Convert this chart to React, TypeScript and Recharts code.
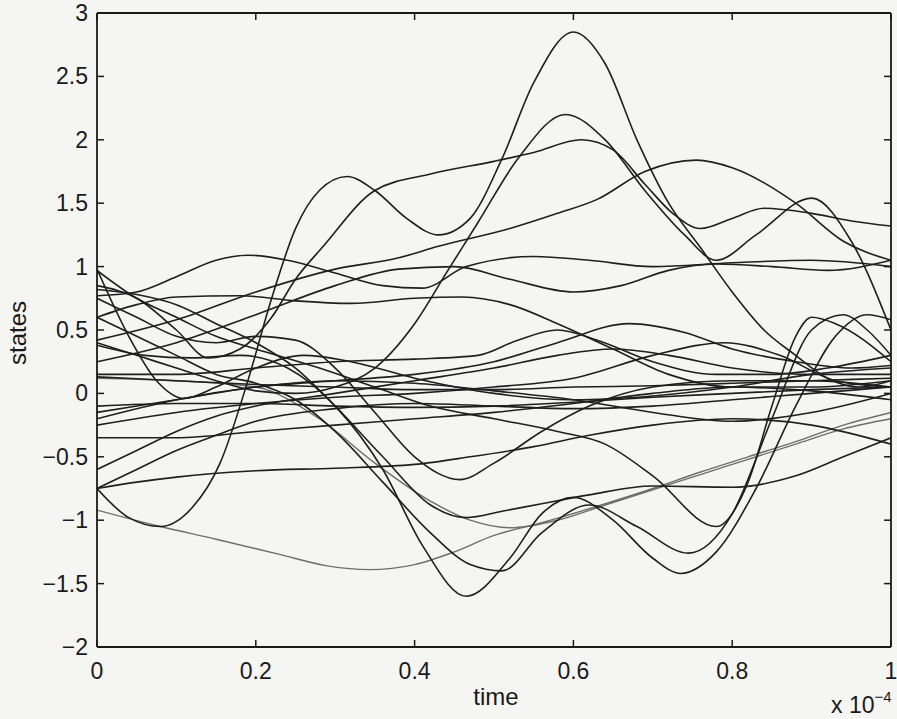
import React from 'react';
import { LineChart, Line, XAxis, YAxis } from 'recharts';

type P = [number, number];

// Each state trajectory: [time (x 1e-4), value]
const s01: P[] = [[0,-0.75],[0.04,-0.98],[0.08,-1.05],[0.12,-0.9],[0.155,-0.55],[0.19,0.1],[0.22,0.75],[0.25,1.3],[0.28,1.6],[0.315,1.71],[0.35,1.6],[0.39,1.38],[0.43,1.25],[0.47,1.38],[0.51,1.85],[0.55,2.45],[0.6,2.85],[0.64,2.6],[0.68,2.0],[0.72,1.5],[0.76,1.15],[0.8,0.8],[0.84,0.5],[0.88,0.3],[0.92,0.12],[0.96,0.05],[1.0,0.1]];
const s02: P[] = [[0,0.4],[0.05,0.3],[0.1,0.2],[0.15,0.1],[0.2,0.02],[0.25,0.0],[0.3,0.05],[0.35,0.2],[0.4,0.55],[0.44,0.95],[0.48,1.35],[0.53,1.85],[0.59,2.2],[0.64,2.0],[0.69,1.6],[0.74,1.25],[0.78,1.05],[0.83,1.25],[0.9,1.54],[0.95,1.2],[1.0,0.5]];
const s03: P[] = [[0,0.85],[0.05,0.75],[0.1,0.5],[0.14,0.28],[0.18,0.35],[0.22,0.6],[0.25,0.9],[0.285,1.16],[0.35,1.6],[0.42,1.73],[0.5,1.83],[0.55,1.9],[0.61,2.0],[0.65,1.92],[0.69,1.65],[0.725,1.42],[0.76,1.3],[0.8,1.38],[0.84,1.46],[0.9,1.42],[0.95,1.36],[1.0,1.32]];
const s04: P[] = [[0,0.42],[0.1,0.58],[0.2,0.8],[0.3,0.98],[0.38,1.07],[0.43,1.16],[0.52,1.3],[0.58,1.42],[0.63,1.53],[0.69,1.75],[0.755,1.84],[0.8,1.78],[0.88,1.5],[0.94,1.2],[1.0,1.05]];
const s05: P[] = [[0,0.77],[0.05,0.8],[0.1,0.92],[0.15,1.05],[0.19,1.09],[0.24,1.05],[0.3,0.95],[0.36,0.85],[0.41,0.83],[0.465,1.0],[0.55,1.08],[0.62,1.05],[0.7,1.0],[0.8,1.03],[0.9,1.05],[1.0,1.0]];
const s06: P[] = [[0,0.6],[0.05,0.7],[0.1,0.76],[0.18,0.77],[0.25,0.73],[0.32,0.71],[0.4,0.75],[0.46,0.76],[0.52,0.7],[0.58,0.55],[0.65,0.35],[0.72,0.15],[0.8,0.05],[0.9,0.05],[1.0,0.1]];
const s07: P[] = [[0,0.25],[0.1,0.4],[0.2,0.62],[0.3,0.85],[0.38,0.98],[0.45,1.0],[0.52,0.9],[0.6,0.8],[0.66,0.85],[0.72,0.97],[0.78,1.02],[0.85,1.0],[0.92,0.97],[1.0,1.05]];
const s08: P[] = [[0,0.15],[0.1,0.15],[0.2,0.2],[0.3,0.25],[0.4,0.27],[0.48,0.3],[0.53,0.42],[0.58,0.5],[0.63,0.42],[0.7,0.25],[0.78,0.15],[0.85,0.15],[0.92,0.2],[1.0,0.3]];
const s09: P[] = [[0,-0.2],[0.1,-0.05],[0.2,0.05],[0.3,0.1],[0.4,0.15],[0.5,0.25],[0.58,0.4],[0.67,0.55],[0.74,0.48],[0.8,0.35],[0.88,0.25],[0.95,0.2],[1.0,0.22]];
const s10: P[] = [[0,-0.25],[0.1,-0.15],[0.2,-0.08],[0.3,-0.03],[0.4,0.0],[0.5,0.05],[0.6,0.12],[0.7,0.3],[0.79,0.4],[0.86,0.3],[0.93,0.1],[1.0,0.05]];
const s11: P[] = [[0,0.38],[0.06,0.3],[0.12,0.28],[0.18,0.3],[0.24,0.2],[0.3,-0.1],[0.36,-0.6],[0.41,-1.2],[0.465,-1.6],[0.52,-1.3],[0.56,-0.95],[0.6,-0.82],[0.65,-1.0],[0.7,-1.3],[0.735,-1.42],[0.78,-1.25],[0.83,-0.75],[0.88,-0.1],[0.93,0.45],[0.97,0.62],[1.0,0.58]];
const s12: P[] = [[0,0.6],[0.05,0.45],[0.1,0.3],[0.15,0.15],[0.2,0.08],[0.25,-0.05],[0.3,-0.3],[0.36,-0.7],[0.42,-1.1],[0.47,-1.35],[0.51,-1.4],[0.56,-1.1],[0.62,-0.88],[0.68,-1.05],[0.745,-1.26],[0.8,-0.95],[0.85,-0.2],[0.9,0.5],[0.94,0.62],[0.97,0.5],[1.0,0.3]];
const s13: P[] = [[0,0.97],[0.05,0.75],[0.1,0.6],[0.15,0.45],[0.2,0.35],[0.28,0.2],[0.35,0.05],[0.42,-0.1],[0.5,-0.2],[0.58,-0.3],[0.64,-0.4],[0.7,-0.65],[0.78,-1.05],[0.82,-0.7],[0.85,-0.1],[0.88,0.45],[0.9,0.6],[0.93,0.55],[1.0,0.25]];
const s14: P[] = [[0,0.75],[0.05,0.6],[0.1,0.45],[0.15,0.4],[0.2,0.45],[0.25,0.42],[0.3,0.2],[0.35,-0.15],[0.4,-0.5],[0.457,-0.68],[0.5,-0.55],[0.56,-0.3],[0.62,-0.1],[0.7,0.05],[0.8,0.1],[0.9,0.1],[1.0,0.05]];
const s15: P[] = [[0,0.82],[0.05,0.78],[0.1,0.7],[0.15,0.55],[0.2,0.4],[0.25,0.2],[0.3,-0.1],[0.36,-0.5],[0.42,-0.88],[0.465,-0.98],[0.51,-0.93],[0.56,-0.87],[0.62,-0.8],[0.7,-0.73],[0.8,-0.74],[0.88,-0.65],[0.94,-0.5],[1.0,-0.35]];
const s16: P[] = [[0,-0.92],[0.08,-1.05],[0.15,-1.15],[0.23,-1.27],[0.29,-1.36],[0.343,-1.39],[0.4,-1.35],[0.45,-1.25],[0.5,-1.12],[0.56,-1.02],[0.63,-0.89],[0.7,-0.75],[0.76,-0.62],[0.82,-0.5],[0.88,-0.38],[0.94,-0.25],[1.0,-0.15]];
const s17: P[] = [[0,0.12],[0.1,0.1],[0.2,0.05],[0.28,-0.2],[0.35,-0.55],[0.42,-0.85],[0.47,-1.0],[0.52,-1.06],[0.58,-1.0],[0.64,-0.88],[0.7,-0.76],[0.76,-0.64],[0.82,-0.52],[0.88,-0.4],[0.94,-0.28],[1.0,-0.2]];
const s18: P[] = [[0,-0.75],[0.05,-0.7],[0.1,-0.66],[0.2,-0.61],[0.3,-0.59],[0.4,-0.56],[0.47,-0.5],[0.55,-0.42],[0.62,-0.33],[0.7,-0.25],[0.8,-0.2],[0.9,-0.25],[1.0,-0.4]];
const s19: P[] = [[0,-0.75],[0.05,-0.6],[0.1,-0.45],[0.15,-0.33],[0.2,-0.22],[0.3,-0.12],[0.4,-0.08],[0.5,-0.1],[0.6,-0.12],[0.7,-0.1],[0.8,-0.05],[0.9,0.0],[1.0,0.05]];
const s20: P[] = [[0,-0.1],[0.1,-0.08],[0.2,-0.08],[0.3,-0.1],[0.4,-0.11],[0.5,-0.1],[0.6,-0.07],[0.7,-0.03],[0.8,0.0],[0.9,0.03],[1.0,0.05]];
const s21: P[] = [[0,0.13],[0.1,0.1],[0.2,0.07],[0.3,0.05],[0.4,0.03],[0.5,0.03],[0.6,0.05],[0.7,0.06],[0.8,0.08],[0.9,0.1],[1.0,0.12]];
const s22: P[] = [[0,-0.15],[0.1,-0.05],[0.2,0.05],[0.3,0.1],[0.4,0.08],[0.5,0.02],[0.6,-0.05],[0.7,-0.15],[0.8,-0.22],[0.9,-0.15],[1.0,0.0]];
const s23: P[] = [[0,0.98],[0.04,0.45],[0.075,0.1],[0.11,-0.04],[0.15,0.05],[0.2,0.2],[0.26,0.3],[0.32,0.25],[0.4,0.12],[0.5,0.0],[0.6,-0.05],[0.7,-0.02],[0.8,0.05],[0.9,0.15],[1.0,0.2]];
const s24: P[] = [[0,-0.35],[0.1,-0.35],[0.2,-0.3],[0.3,-0.25],[0.4,-0.2],[0.5,-0.15],[0.6,-0.08],[0.7,0.0],[0.8,0.05],[0.9,0.02],[1.0,-0.05]];
const s25: P[] = [[0,-0.6],[0.05,-0.45],[0.1,-0.3],[0.15,-0.18],[0.2,-0.1],[0.3,0.0],[0.4,0.1],[0.5,0.2],[0.58,0.3],[0.65,0.35],[0.72,0.3],[0.8,0.2],[0.9,0.15],[1.0,0.15]];

const darkSeries: P[][] = [s01, s02, s03, s04, s05, s06, s07, s08, s09, s10, s11, s12, s13, s14, s15, s18, s19, s20, s21, s22, s23, s24, s25];
const graySeries: P[][] = [s16, s17];

const xTicks = [0, 0.2, 0.4, 0.6, 0.8, 1];
const xTickLabels = ['0', '0.2', '0.4', '0.6', '0.8', '1'];
const yTicks = [-2, -1.5, -1, -0.5, 0, 0.5, 1, 1.5, 2, 2.5, 3];
const yTickLabels = ['\u22122', '\u22121.5', '\u22121', '\u22120.5', '0', '0.5', '1', '1.5', '2', '2.5', '3'];

const FONT = '"Liberation Sans", Arial, Helvetica, sans-serif';
const INK = '#1a1a1a';
const TICK_LEN = 7;
const TICK_FONT = 23;

const labelFor = (ticks: number[], labels: string[], v: number) => {
  const i = ticks.findIndex((t) => Math.abs(t - v) < 1e-9);
  return i >= 0 ? labels[i] : String(v);
};

const BottomTick = (props: any) => {
  const { x, y, payload } = props;
  return (
    <g>
      <line x1={x} y1={y} x2={x} y2={y - TICK_LEN} stroke={INK} strokeWidth={1.5} />
      <text x={x} y={y + 32} textAnchor="middle" fontSize={TICK_FONT} fill={INK} fontFamily={FONT}>
        {labelFor(xTicks, xTickLabels, payload.value)}
      </text>
    </g>
  );
};

const LeftTick = (props: any) => {
  const { x, y, payload } = props;
  return (
    <g>
      <line x1={x} y1={y} x2={x + TICK_LEN} y2={y} stroke={INK} strokeWidth={1.5} />
      <text x={x - 9} y={y + 8} textAnchor="end" fontSize={TICK_FONT} fill={INK} fontFamily={FONT}>
        {labelFor(yTicks, yTickLabels, payload.value)}
      </text>
    </g>
  );
};

const TopTick = (props: any) => {
  const { x, y } = props;
  return <line x1={x} y1={y} x2={x} y2={y + TICK_LEN} stroke={INK} strokeWidth={1.5} />;
};

const RightTick = (props: any) => {
  const { x, y } = props;
  return <line x1={x} y1={y} x2={x - TICK_LEN} y2={y} stroke={INK} strokeWidth={1.5} />;
};

const toRows = (pts: P[]) => pts.map(([x, y]) => ({ x, y }));

export default function App() {
  const axisLine = { stroke: INK, strokeWidth: 1.8 };
  return (
    <div style={{ position: 'absolute', left: 0, top: 0, width: 897, height: 719, background: '#f5f5f4', fontFamily: FONT }}>
      <LineChart width={897} height={719} margin={{ top: 12, right: 5, bottom: 32, left: 0 }}>
        <XAxis
          xAxisId="b"
          dataKey="x"
          type="number"
          domain={[0, 1]}
          ticks={xTicks}
          interval={0}
          allowDataOverflow
          height={40}
          tickSize={0}
          tickMargin={0}
          axisLine={axisLine}
          tickLine={false}
          tick={<BottomTick />}
        />
        <XAxis
          xAxisId="t"
          orientation="top"
          dataKey="x"
          type="number"
          domain={[0, 1]}
          ticks={xTicks}
          interval={0}
          allowDataOverflow
          height={1}
          tickSize={0}
          tickMargin={0}
          axisLine={axisLine}
          tickLine={false}
          tick={<TopTick />}
        />
        <YAxis
          yAxisId="l"
          type="number"
          domain={[-2, 3]}
          ticks={yTicks}
          interval={0}
          allowDataOverflow
          width={97}
          tickSize={0}
          tickMargin={0}
          axisLine={axisLine}
          tickLine={false}
          tick={<LeftTick />}
        />
        <YAxis
          yAxisId="r"
          orientation="right"
          type="number"
          domain={[-2, 3]}
          ticks={yTicks}
          interval={0}
          allowDataOverflow
          width={1}
          tickSize={0}
          tickMargin={0}
          axisLine={axisLine}
          tickLine={false}
          tick={<RightTick />}
        />
        {graySeries.map((pts, i) => (
          <Line
            key={'g' + i}
            xAxisId="b"
            yAxisId="l"
            data={toRows(pts)}
            dataKey="y"
            type="monotoneX"
            stroke="#6e6e6e"
            strokeWidth={1.4}
            dot={false}
            activeDot={false}
            isAnimationActive={false}
          />
        ))}
        {darkSeries.map((pts, i) => (
          <Line
            key={'d' + i}
            xAxisId="b"
            yAxisId="l"
            data={toRows(pts)}
            dataKey="y"
            type="monotoneX"
            stroke="#1f1f1f"
            strokeWidth={1.6}
            dot={false}
            activeDot={false}
            isAnimationActive={false}
          />
        ))}
      </LineChart>
      <div style={{ position: 'absolute', left: 496, top: 697, transform: 'translate(-50%, -50%)', fontSize: 24, color: INK, whiteSpace: 'nowrap' }}>time</div>
      <div style={{ position: 'absolute', left: 18, top: 333, transform: 'translate(-50%, -50%) rotate(-90deg)', fontSize: 24, color: INK, whiteSpace: 'nowrap' }}>states</div>
      <div style={{ position: 'absolute', left: 831, top: 694, fontSize: 23, color: INK, whiteSpace: 'nowrap', lineHeight: '23px' }}>
        x 10<sup style={{ fontSize: 15, verticalAlign: 'top', position: 'relative', top: -9 }}>{'\u22124'}</sup>
      </div>
    </div>
  );
}
